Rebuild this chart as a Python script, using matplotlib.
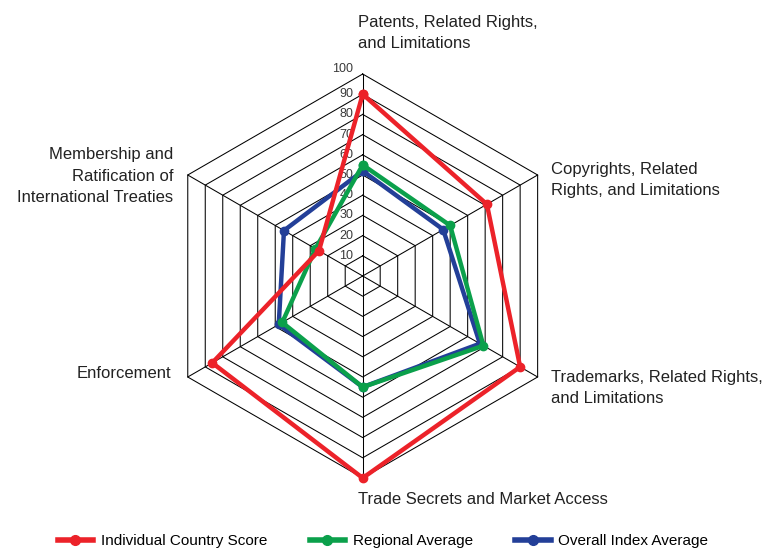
import numpy as np
import matplotlib
matplotlib.use("Agg")
import matplotlib.pyplot as plt
from matplotlib.lines import Line2D

categories = ["Patents, Related Rights,\nand Limitations",
              "Copyrights, Related\nRights, and Limitations",
              "Trademarks, Related Rights,\nand Limitations",
              "Trade Secrets and Market Access",
              "Enforcement",
              "Membership and\nRatification of\nInternational Treaties"]
country = [90, 71, 90, 100, 86, 25]
regional = [55, 50, 69, 55, 46, 27]
overall = [52, 46, 67, 55, 48, 45]
ticks = [10, 20, 30, 40, 50, 60, 70, 80, 90, 100]

W, H = 765, 554
cx, cy = 362.7, 276.0
scale = 2.02  # px per unit

label_font = ['Liberation Sans', 'DejaVu Sans']

fig = plt.figure(figsize=(W / 100, H / 100), dpi=100)
ax = fig.add_axes([0, 0, 1, 1])
ax.set_xlim(-cx / scale, (W - cx) / scale)
ax.set_ylim(-(H - cy) / scale, cy / scale)
ax.axis("off")

angles = np.deg2rad([90, 30, -30, -90, -150, 150])


def to_xy(vals):
    vals = np.asarray(vals, dtype=float)
    x = vals * np.cos(angles)
    y = vals * np.sin(angles)
    return np.append(x, x[0]), np.append(y, y[0])


# hexagon rings and spokes
for t in ticks:
    x, y = to_xy([t] * 6)
    ax.plot(x, y, color="black", lw=0.75, zorder=1)
for a in angles:
    ax.plot([0, 100 * np.cos(a)], [0, 100 * np.sin(a)], color="black", lw=0.75, zorder=1)

# tick labels along the top axis
for t in ticks:
    dy = 2.5 if t == 100 else 0.0
    ax.text(-4.6, t + dy, str(t), ha="right", va="center", fontsize=9,
            color="#3a3a3a", family=label_font, zorder=2)

series = [(overall, "#233f98", "Overall Index Average"),
          (regional, "#0ba04b", "Regional Average"),
          (country, "#ec2229", "Individual Country Score")]
for z, (vals, col, name) in enumerate(series):
    x, y = to_xy(vals)
    ax.plot(x, y, color=col, lw=3.2, marker="o", markersize=6, zorder=3 + z)


# axis labels (pixel positions)
def ftext(px, py, s, ha):
    fig.text(px / W, 1 - py / H, s, ha=ha, va="center", fontsize=12,
             family=label_font, color="#222222", linespacing=1.55)


ftext(358, 33, categories[0], "left")
ftext(551, 180, categories[1], "left")
ftext(551, 388, categories[2], "left")
ftext(358, 500, categories[3], "left")
ftext(171, 373, categories[4], "right")
ftext(173, 176, categories[5], "right")

handles = [Line2D([], [], color="#ec2229", lw=4, marker="o", markersize=7),
           Line2D([], [], color="#0ba04b", lw=4, marker="o", markersize=7),
           Line2D([], [], color="#233f98", lw=4, marker="o", markersize=7)]
fig.legend(handles, ["Individual Country Score", "Regional Average", "Overall Index Average"],
           loc="center", bbox_to_anchor=(383 / W, 1 - 541 / H), ncol=3, frameon=False,
           handlelength=2.3, columnspacing=2.8, handletextpad=0.5,
           prop={"family": label_font, "size": 11})

fig.savefig("out.png", dpi=100)
